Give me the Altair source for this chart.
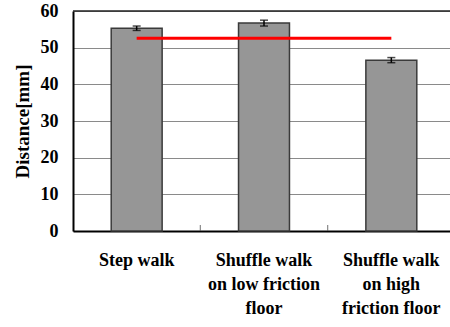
import altair as alt
import pandas as pd

# Mean walking distance per condition, with standard-error half widths
categories = [
    "Step walk",
    "Shuffle walk\non low friction\nfloor",
    "Shuffle walk\non high\nfriction floor",
]
means = [55.3, 56.7, 46.6]
errors = [0.6, 0.8, 0.7]
reference_value = 52.6  # red reference line

df = pd.DataFrame({"cond": categories, "mean": means, "err": errors})
ref_df = pd.DataFrame({"start": [categories[0]], "end": [categories[-1]], "v": [reference_value]})
sep_df = pd.DataFrame({"cond": categories[1:]})

FONT = "Liberation Serif, DejaVu Serif, serif"
W, H = 377, 220
RANGE = 382
STEP = RANGE / 3

x_scale = alt.Scale(domain=categories, range=[0, RANGE], paddingInner=0.6, paddingOuter=0.3)
y_scale = alt.Scale(domain=[0, 60], nice=False)

base = alt.Chart(df)

bars = base.mark_bar(fill="#969696", stroke="#3a3a3a", strokeWidth=1.5).encode(
    x=alt.X("cond:N", scale=x_scale, sort=categories, title=None),
    y=alt.Y("mean:Q", scale=y_scale, title="Distance[mm]"),
)

err_base = base.transform_calculate(lo="datum.mean - datum.err", hi="datum.mean + datum.err")
err_rule = err_base.mark_rule(color="black", strokeWidth=1.5).encode(
    x=alt.X("cond:N", scale=x_scale, sort=categories),
    y=alt.Y("lo:Q", scale=y_scale),
    y2="hi:Q",
)
cap_lo = err_base.mark_tick(color="black", size=8, thickness=1.5, orient="horizontal").encode(
    x=alt.X("cond:N", scale=x_scale, sort=categories),
    y=alt.Y("lo:Q", scale=y_scale),
)
cap_hi = err_base.mark_tick(color="black", size=8, thickness=1.5, orient="horizontal").encode(
    x=alt.X("cond:N", scale=x_scale, sort=categories),
    y=alt.Y("hi:Q", scale=y_scale),
)

ref_line = alt.Chart(ref_df).mark_rule(color="#ff0000", strokeWidth=3).encode(
    x=alt.X("start:N", scale=x_scale),
    x2="end:N",
    y=alt.Y("v:Q", scale=y_scale),
)

# small separator ticks between categories on the baseline (half a step left of centre)
sep_ticks = alt.Chart(sep_df).mark_tick(
    color="#555555", thickness=1.2, size=6, orient="vertical", xOffset=-STEP / 2, yOffset=-3
).encode(
    x=alt.X("cond:N", scale=x_scale),
    y=alt.value(H),
)

# dark top border of the frame
top_border = alt.Chart(ref_df).mark_rule(color="#222222", strokeWidth=1.5).encode(
    x=alt.value(0), x2=alt.value(400), y=alt.value(0),
)

chart = (
    alt.layer(bars, ref_line, err_rule, cap_lo, cap_hi, sep_ticks, top_border)
    .properties(
        width=W, height=H,
        autosize=alt.AutoSizeParams(type="none"),
        padding={"left": 73, "top": 11, "right": 0, "bottom": 96},
    )
    .configure(background="white", font=FONT)
    .configure_view(stroke=None)
    .configure_axis(
        labelFont=FONT, labelFontWeight="bold", labelColor="black",
        titleFont=FONT, titleFontWeight="bold", titleColor="black",
        domainColor="black", domainWidth=2, ticks=False,
    )
    .configure_axisX(
        labelAngle=0, labelFontSize=18, labelPadding=20, labelLineHeight=24,
        labelBaseline="top", labelExpr="split(datum.label, '\\n')", grid=False,
    )
    .configure_axisY(
        labelFontSize=18, labelPadding=15, titleFontSize=19, titlePadding=8,
        tickCount=6, labelOverlap=False, grid=True, gridColor="#8a8a8a",
        gridWidth=1, gridOpacity=1,
    )
)

chart.save("out.html", embed_options={"renderer": "svg", "actions": False})
